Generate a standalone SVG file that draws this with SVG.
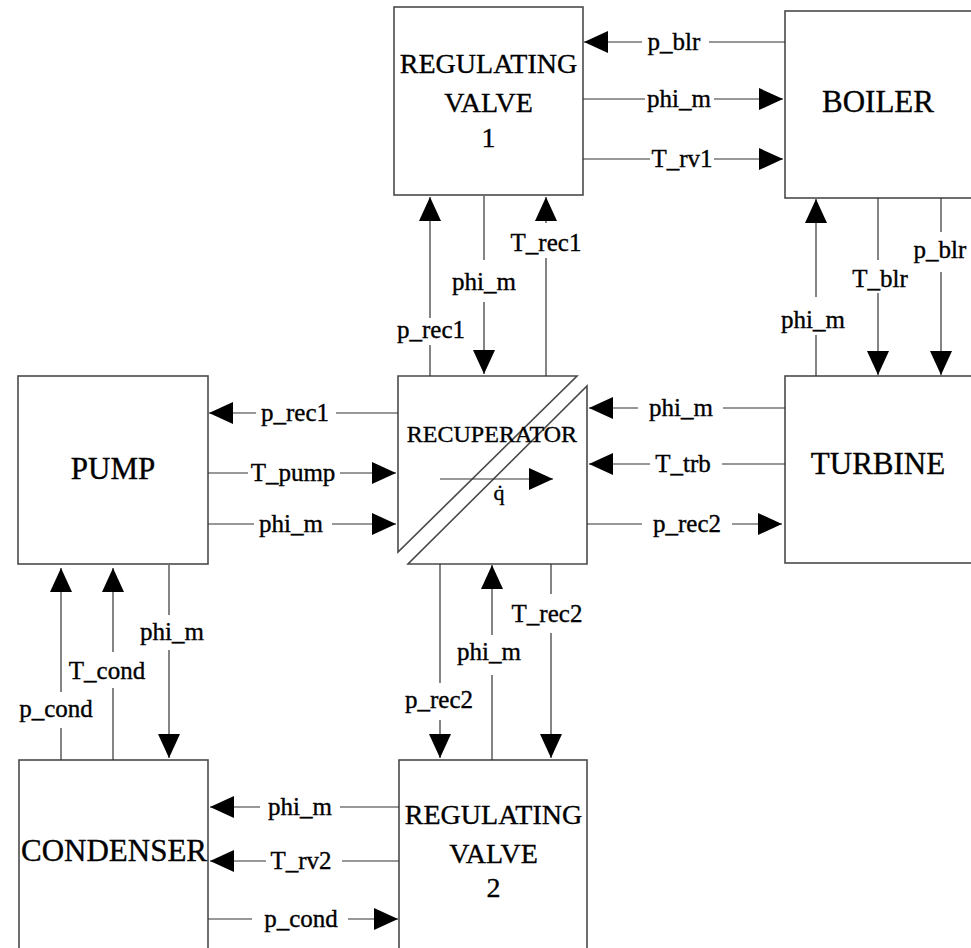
<svg xmlns="http://www.w3.org/2000/svg" width="971" height="948" viewBox="0 0 971 948">
<style>
.box{fill:#fff;stroke:#4a4a4a;stroke-width:1.6}
.ln{stroke:#333;stroke-width:1.2;fill:none}
.arr{marker-end:url(#ah)}
text{font-family:"Liberation Serif","Times New Roman",serif;fill:#000;stroke:#000;stroke-width:0.35;text-anchor:middle}
.lbl{font-size:25px}
.big{font-size:31px}
.rv{font-size:28px}
.rec{font-size:24px}
</style>
<defs>
<marker id="ah" viewBox="0 0 24 22" refX="24" refY="11" markerWidth="24" markerHeight="22" markerUnits="userSpaceOnUse" orient="auto">
<path d="M0,0 L24,11 L0,22 z" fill="#000"/>
</marker>
</defs>
<rect width="971" height="948" fill="#fff"/>

<g id="rv1">
<rect class="box" x="394" y="7" width="189" height="188"/>
<text class="rv" x="488.5" y="73">REGULATING</text>
<text class="rv" x="488.5" y="112">VALVE</text>
<text class="rv" x="488.5" y="147">1</text>
</g>
<g id="boiler">
<rect class="box" x="785" y="11" width="190" height="187"/>
<text class="big" x="878" y="112">BOILER</text>
</g>
<g id="recuperator">
<polygon class="box" points="398,376 577,376 398,552"/>
<polygon class="box" points="587,386 587,564 408,564"/>
<text class="rec" x="492" y="442">RECUPERATOR</text>
</g>
<g id="pump">
<rect class="box" x="18" y="376" width="190" height="188"/>
<text class="big" x="113" y="479">PUMP</text>
</g>
<g id="turbine">
<rect class="box" x="785" y="376" width="190" height="187"/>
<text class="big" x="878" y="474">TURBINE</text>
</g>
<g id="condenser">
<rect class="box" x="19" y="760" width="189" height="200"/>
<text class="big" x="114" y="861">CONDENSER</text>
</g>
<g id="rv2">
<rect class="box" x="399" y="760" width="188" height="200"/>
<text class="rv" x="493.5" y="824">REGULATING</text>
<text class="rv" x="493.5" y="863">VALVE</text>
<text class="rv" x="493.5" y="897">2</text>
</g>

<g id="connectors">
<line class="ln" x1="785" y1="42" x2="709" y2="42"/>
<line class="ln arr" x1="642" y1="42" x2="584" y2="42"/>
<text class="lbl" x="674" y="50">p_blr</text>
<line class="ln" x1="583" y1="99" x2="645" y2="99"/>
<line class="ln arr" x1="714" y1="99" x2="783" y2="99"/>
<text class="lbl" x="679" y="107">phi_m</text>
<line class="ln" x1="583" y1="159" x2="650" y2="159"/>
<line class="ln arr" x1="714" y1="159" x2="783" y2="159"/>
<text class="lbl" x="682" y="167">T_rv1</text>

<line class="ln" x1="430" y1="376" x2="430" y2="345"/>
<line class="ln arr" x1="430" y1="318" x2="430" y2="197"/>
<text class="lbl" x="431" y="338">p_rec1</text>
<line class="ln" x1="484" y1="196" x2="484" y2="260"/>
<line class="ln arr" x1="484" y1="302" x2="484" y2="374"/>
<text class="lbl" x="484" y="290">phi_m</text>
<line class="ln" x1="546" y1="376" x2="546" y2="258"/>
<line class="ln arr" x1="546" y1="223" x2="546" y2="197"/>
<text class="lbl" x="546" y="251">T_rec1</text>

<line class="ln" x1="816" y1="376" x2="816" y2="335"/>
<line class="ln arr" x1="816" y1="297" x2="816" y2="199"/>
<text class="lbl" x="813" y="328">phi_m</text>
<line class="ln" x1="878" y1="198" x2="878" y2="260"/>
<line class="ln arr" x1="878" y1="293" x2="878" y2="375"/>
<text class="lbl" x="880" y="287">T_blr</text>
<line class="ln" x1="941" y1="198" x2="941" y2="232"/>
<line class="ln arr" x1="941" y1="272" x2="941" y2="375"/>
<text class="lbl" x="940" y="258">p_blr</text>

<line class="ln" x1="398" y1="413" x2="336" y2="413"/>
<line class="ln arr" x1="256" y1="413" x2="209" y2="413"/>
<text class="lbl" x="295" y="421">p_rec1</text>
<line class="ln" x1="208" y1="473" x2="248" y2="473"/>
<line class="ln arr" x1="340" y1="473" x2="396" y2="473"/>
<text class="lbl" x="293" y="481">T_pump</text>
<line class="ln" x1="208" y1="524" x2="254" y2="524"/>
<line class="ln arr" x1="332" y1="524" x2="396" y2="524"/>
<text class="lbl" x="291" y="532">phi_m</text>

<line class="ln arr" x1="440" y1="479" x2="553" y2="479"/>
<text class="lbl" x="499" y="500" style="font-size:22px">q̇</text>

<line class="ln" x1="785" y1="408" x2="723" y2="408"/>
<line class="ln arr" x1="638" y1="408" x2="589" y2="408"/>
<text class="lbl" x="681" y="416">phi_m</text>
<line class="ln" x1="785" y1="464" x2="722" y2="464"/>
<line class="ln arr" x1="650" y1="464" x2="589" y2="464"/>
<text class="lbl" x="683" y="472">T_trb</text>
<line class="ln" x1="587" y1="524" x2="642" y2="524"/>
<line class="ln arr" x1="732" y1="524" x2="782" y2="524"/>
<text class="lbl" x="687" y="532">p_rec2</text>

<line class="ln" x1="61" y1="760" x2="61" y2="728"/>
<line class="ln arr" x1="61" y1="692" x2="61" y2="568"/>
<text class="lbl" x="56" y="717">p_cond</text>
<line class="ln" x1="113" y1="760" x2="113" y2="688"/>
<line class="ln arr" x1="113" y1="652" x2="113" y2="568"/>
<text class="lbl" x="107" y="679">T_cond</text>
<line class="ln" x1="169" y1="565" x2="169" y2="615"/>
<line class="ln arr" x1="169" y1="650" x2="169" y2="758"/>
<text class="lbl" x="172" y="640">phi_m</text>

<line class="ln" x1="440" y1="564" x2="440" y2="683"/>
<line class="ln arr" x1="440" y1="720" x2="440" y2="758"/>
<text class="lbl" x="439" y="708">p_rec2</text>
<line class="ln" x1="492" y1="760" x2="492" y2="675"/>
<line class="ln arr" x1="492" y1="635" x2="492" y2="565"/>
<text class="lbl" x="489" y="660">phi_m</text>
<line class="ln" x1="551" y1="564" x2="551" y2="594"/>
<line class="ln arr" x1="551" y1="633" x2="551" y2="758"/>
<text class="lbl" x="547" y="622">T_rec2</text>

<line class="ln" x1="399" y1="807" x2="340" y2="807"/>
<line class="ln arr" x1="260" y1="807" x2="210" y2="807"/>
<text class="lbl" x="300" y="815">phi_m</text>
<line class="ln" x1="399" y1="861" x2="342" y2="861"/>
<line class="ln arr" x1="266" y1="861" x2="210" y2="861"/>
<text class="lbl" x="301" y="869">T_rv2</text>
<line class="ln" x1="208" y1="919" x2="252" y2="919"/>
<line class="ln arr" x1="348" y1="919" x2="398" y2="919"/>
<text class="lbl" x="301" y="927">p_cond</text>
</g>
</svg>
